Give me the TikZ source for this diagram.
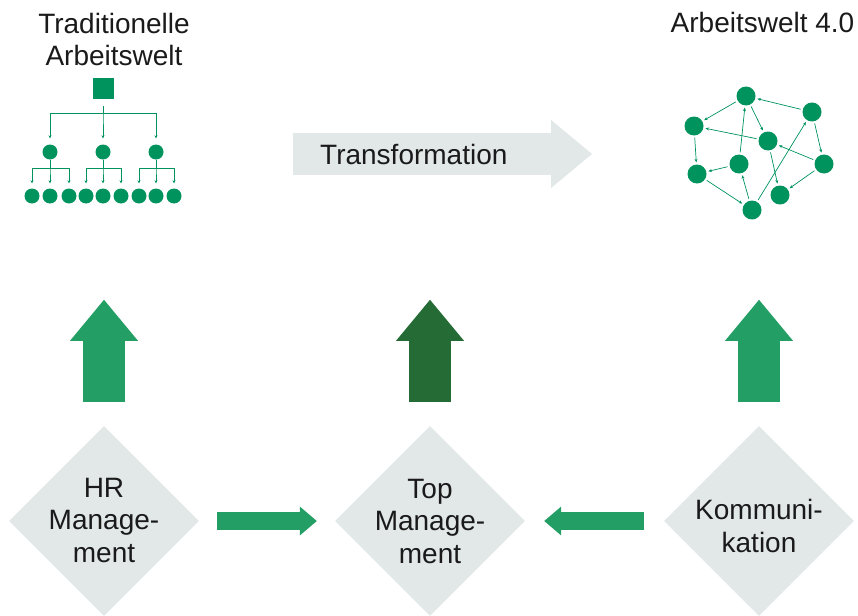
\documentclass[tikz,border=0pt]{standalone}
\usepackage{fontspec}
\setmainfont{Liberation Sans}
\usetikzlibrary{arrows.meta,shapes.geometric}

\definecolor{palegrey}{RGB}{225,232,231}
\definecolor{midgreen}{RGB}{35,158,100}
\definecolor{darkgreen}{RGB}{36,107,53}
\definecolor{dotgreen}{RGB}{0,147,94}
\definecolor{ink}{RGB}{26,26,26}

\begin{document}
\begin{tikzpicture}[x=1pt, y=-1pt,
    font=\fontsize{28}{32.5}\selectfont, text=ink,
    orgdot/.style={circle, fill=dotgreen, inner sep=0pt, minimum size=#1},
    orgdot/.default=15pt,
    treeline/.style={draw=dotgreen, line width=0.7pt, -{Stealth[length=3pt,width=3pt]}},
    netline/.style={draw=dotgreen, line width=0.7pt, -{Stealth[length=3.5pt,width=3pt]},
        shorten <=2pt, shorten >=2pt},
    bigarrow/.style={line width=42pt, -{Triangle[width=68pt,length=41pt,line width=0pt]}},
    flatarrow/.style={draw=midgreen, line width=18pt,
        -{Triangle[width=29pt,length=17pt,line width=0pt]}},
    field/.style={diamond, fill=palegrey, inner sep=0pt, minimum size=190pt}]
    \useasboundingbox (0,0) rectangle (858,615);

    % Titles
    \node[align=center, anchor=north, inner sep=0pt] (oldtitle) at (114,12.7)
        {Traditionelle\\Arbeitswelt};
    \node[anchor=base, inner sep=0pt] (newtitle) at (762.5,33) {Arbeitswelt 4.0};

    % Draw hierarchy
    \node[fill=dotgreen, inner sep=0pt, minimum size=21pt] (root) at (103,88.5) {};
    \foreach \x [count=\i] in {50,103,156}
        \node[orgdot] (m\i) at (\x,152) {};
    \foreach \x [count=\i] in {32,50,69,86,103,121,139,156,174}
        \node[orgdot] (l\i) at (\x,196) {};
    \foreach \i in {1,2,3}
        \draw[treeline, shorten <=7pt, shorten >=6pt] (root.south) -- ++(0,14) -| (m\i.north);
    \foreach \i in {1,...,9} {
        \pgfmathtruncatemacro\p{(\i+2)/3}
        \draw[treeline, shorten >=5pt] (m\p.south) -- ++(0,8.5) -| (l\i.north);
    }

    % Draw network
    \foreach \n/\x/\y in {w1/746/96, w2/812/112, w3/694/126, w4/768/141, w5/739/164,
                          w6/824/164, w7/697/174, w8/780/195, w9/752/210}
        \node[orgdot=19pt] (\n) at (\x,\y) {};
    \foreach \a/\b in {w2/w1, w1/w3, w1/w4, w4/w3, w5/w1, w3/w7, w5/w7,
                       w7/w9, w9/w5, w9/w2, w2/w6, w6/w4, w4/w8, w6/w8}
        \draw[netline] (\a) -- (\b);

    % Transformation arrow
    \coordinate (tstart) at (293,154);
    \coordinate (tend) at (592,154);
    \draw[bigarrow, draw=palegrey] (tstart) -- (tend);
    \node[anchor=base west, inner sep=0pt] (trans) at (320,164) {Transformation};

    % Fields
    \node[field, label={[align=center, inner sep=0pt, yshift=1pt]center:{HR\\Manage-\\ment}}]
        (hr) at (104,521) {};
    \node[field, label={[align=center, inner sep=0pt]center:{Top\\Manage-\\ment}}]
        (top) at (430,521) {};
    \node[field, label={[align=center, inner sep=0pt, yshift=-5pt]center:{Kommuni-\\kation}}]
        (kom) at (759,521) {};

    % Draw arrows
    \foreach \n/\c in {hr/midgreen, top/darkgreen, kom/midgreen}
        \draw[bigarrow, draw=\c] ([yshift=24pt]\n.north) -- ([yshift=126pt]\n.north);
    \draw[flatarrow, shorten <=18pt, shorten >=18pt] (hr) -- (top);
    \draw[flatarrow, shorten <=20pt, shorten >=19pt] (kom) -- (top);
\end{tikzpicture}
\end{document}
